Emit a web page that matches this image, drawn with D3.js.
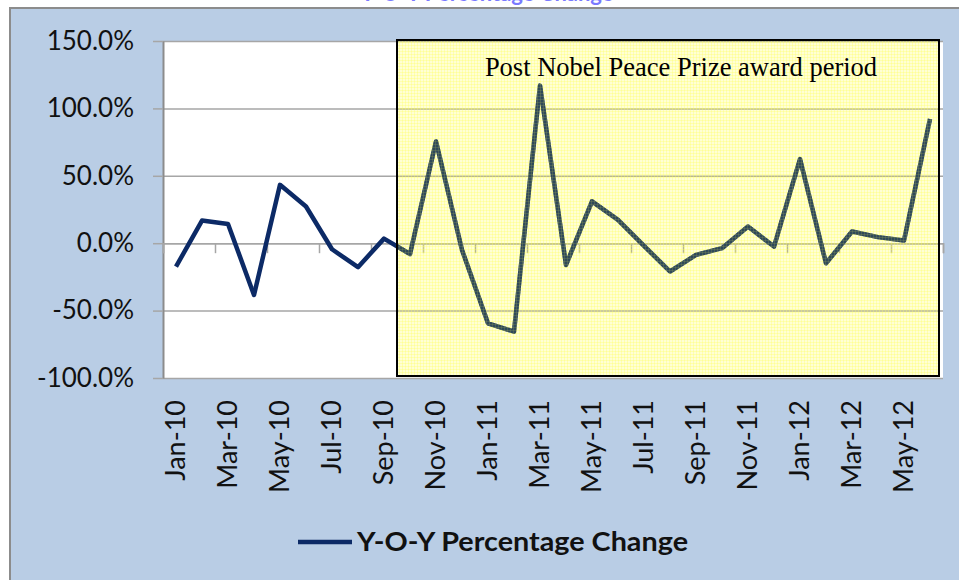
<!DOCTYPE html>
<html>
<head>
<meta charset="utf-8">
<script src="https://cdn.jsdelivr.net/npm/d3@7"></script>
<style>
  html, body { margin: 0; padding: 0; background: #fff; }
  svg { display: block; }
</style>
</head>
<body>
<div id="chart"></div>
<script>
// months shown on the category axis
const months = [
  "Jan-10", "Feb-10", "Mar-10", "Apr-10", "May-10", "Jun-10", "Jul-10", "Aug-10", "Sep-10", "Oct-10", "Nov-10", "Dec-10",
  "Jan-11", "Feb-11", "Mar-11", "Apr-11", "May-11", "Jun-11", "Jul-11", "Aug-11", "Sep-11", "Oct-11", "Nov-11", "Dec-11",
  "Jan-12", "Feb-12", "Mar-12", "Apr-12", "May-12", "Jun-12"
];

// Y-O-Y percentage change (fractions)
const yoyChange = [
  -0.174, 0.168, 0.143, -0.384, 0.433, 0.272, -0.045, -0.178, 0.034, -0.08, 0.755, -0.05,
  -0.594, -0.656, 1.169, -0.161, 0.31, 0.173, -0.02, -0.21, -0.087, -0.037, 0.124, -0.025,
  0.624, -0.149, 0.087, 0.045, 0.02, 0.921
];

const yTicks = [-1, -0.5, 0, 0.5, 1, 1.5];
const seriesName = "Y-O-Y Percentage Change";
const periodStart = "Oct-10";
const periodLabel = "Post Nobel Peace Prize award period";

const width = 959, height = 580;
const plotL = 163, plotR = 943, plotT = 41, plotB = 378;

const svg = d3.select("#chart").append("svg")
    .attr("width", width)
    .attr("height", height);

const defs = svg.append("defs");
const pat = defs.append("pattern")
    .attr("id", "smallgrid")
    .attr("width", 3).attr("height", 3)
    .attr("patternUnits", "userSpaceOnUse");
pat.append("rect").attr("width", 3).attr("height", 3).attr("fill", "rgba(255,255,40,0.2)");
pat.append("path").attr("d", "M0,0.5H3M0.5,0V3")
    .attr("stroke", "rgba(255,255,90,0.3)").attr("stroke-width", 1);

// chart title, mostly above the top edge of the picture
svg.append("text")
    .attr("x", 487).attr("y", 1)
    .attr("text-anchor", "middle")
    .style("font-family", "Lato, sans-serif")
    .style("font-weight", "bold")
    .style("font-size", "22px")
    .style("fill", "#7a7aff")
    .text("Y-O-Y Percentage Change");

// outer frame
svg.append("rect")
    .attr("x", 10).attr("y", 8)
    .attr("width", 960).attr("height", 590)
    .attr("fill", "#b9cde5")
    .attr("stroke", "#8c8c8c")
    .attr("stroke-width", 2);

const x = d3.scaleBand().domain(months).range([plotL, plotR]);
const xb = d3.scaleLinear().domain([0, months.length]).range([plotL, plotR]);
const y = d3.scaleLinear().domain([-1, 1.5]).range([plotB, plotT]);
const pct = d => d3.format(".1%")(d).replace("\u2212", "-");

svg.append("rect")
    .attr("x", plotL).attr("y", plotT)
    .attr("width", plotR - plotL).attr("height", plotB - plotT)
    .attr("fill", "#fff");

// gridlines
svg.append("g")
    .attr("transform", `translate(${plotL},0)`)
    .call(d3.axisLeft(y).tickValues(yTicks).tickSize(-(plotR - plotL)).tickFormat(""))
    .call(g => g.select(".domain").remove())
    .call(g => g.selectAll("line").attr("stroke", "#a6a6a6").attr("stroke-width", 1.5));

// y axis
svg.append("g")
    .attr("transform", `translate(${plotL},0)`)
    .call(d3.axisLeft(y).tickValues(yTicks).tickSize(10).tickSizeOuter(0).tickPadding(19)
        .tickFormat(pct))
    .call(g => g.select(".domain").attr("stroke", "#8c8c8c").attr("stroke-width", 2))
    .call(g => g.selectAll("line").attr("stroke", "#a6a6a6").attr("stroke-width", 1.5))
    .call(g => g.selectAll("text")
        .style("font-family", "Lato, sans-serif")
        .style("font-size", "26px")
        .style("fill", "#111"));

// category axis ticks on the zero line
svg.append("g")
    .attr("transform", `translate(0,${y(0)})`)
    .call(d3.axisBottom(xb).tickValues(d3.range(0, months.length + 1, 2)).tickSize(10).tickFormat(""))
    .call(g => g.select(".domain").attr("stroke", "#a6a6a6").attr("stroke-width", 1.5))
    .call(g => g.selectAll("line").attr("stroke", "#a6a6a6").attr("stroke-width", 1.5));

// category labels at the bottom
svg.append("g")
    .attr("transform", `translate(0,${plotB + 22})`)
    .call(d3.axisBottom(x).tickValues(months.filter((m, i) => i % 2 === 0)).tickSize(0).tickPadding(0))
    .call(g => g.select(".domain").remove())
    .call(g => g.selectAll("text")
        .attr("transform", "rotate(-90)")
        .attr("x", 0).attr("y", 0).attr("dy", "0.35em")
        .attr("text-anchor", "end")
        .style("font-family", "Lato, sans-serif")
        .style("font-size", "27px")
        .style("fill", "#111"));

// series line
const line = d3.line()
    .x((d, i) => x(months[i]) + x.bandwidth() / 2)
    .y(d => y(d));

svg.append("path")
    .datum(yoyChange)
    .attr("fill", "none")
    .attr("stroke", "#0c2a66")
    .attr("stroke-width", 4.5)
    .attr("stroke-linejoin", "round")
    .attr("d", line);

// highlighted period box
const bx = x(periodStart);
const bw = plotR - 4 - bx;

defs.append("clipPath").attr("id", "boxclip")
    .append("rect")
    .attr("x", bx).attr("y", plotT - 1)
    .attr("width", bw).attr("height", plotB - plotT - 1);

svg.append("rect")
    .attr("x", bx).attr("y", plotT - 1)
    .attr("width", bw).attr("height", plotB - plotT - 1)
    .attr("fill", "url(#smallgrid)");

// darker tint of the line under the pattern
svg.append("path")
    .datum(yoyChange)
    .attr("clip-path", "url(#boxclip)")
    .attr("fill", "none")
    .attr("stroke", "#24405a")
    .attr("stroke-opacity", 0.55)
    .attr("stroke-width", 4.5)
    .attr("stroke-linejoin", "round")
    .attr("d", line);

svg.append("rect")
    .attr("x", bx).attr("y", plotT - 1)
    .attr("width", bw).attr("height", plotB - plotT - 1)
    .attr("fill", "none")
    .attr("stroke", "#000")
    .attr("stroke-width", 2);

svg.append("text")
    .attr("x", (bx + plotR - 4) / 2 + 13).attr("y", 76)
    .attr("text-anchor", "middle")
    .style("font-family", "'Liberation Serif', 'Times New Roman', serif")
    .style("font-size", "26.5px")
    .style("fill", "#000")
    .text(periodLabel);

// legend
const legend = svg.append("g").attr("transform", "translate(298,542)");
legend.append("line")
    .attr("x1", 0).attr("x2", 54)
    .attr("stroke", "#0c2a66").attr("stroke-width", 4.5);
legend.append("text")
    .attr("x", 59).attr("dy", "0.35em")
    .attr("textLength", 331)
    .attr("lengthAdjust", "spacingAndGlyphs")
    .style("font-family", "Lato, sans-serif")
    .style("font-weight", "bold")
    .style("font-size", "26px")
    .style("fill", "#111")
    .text(seriesName);
</script>
</body>
</html>
